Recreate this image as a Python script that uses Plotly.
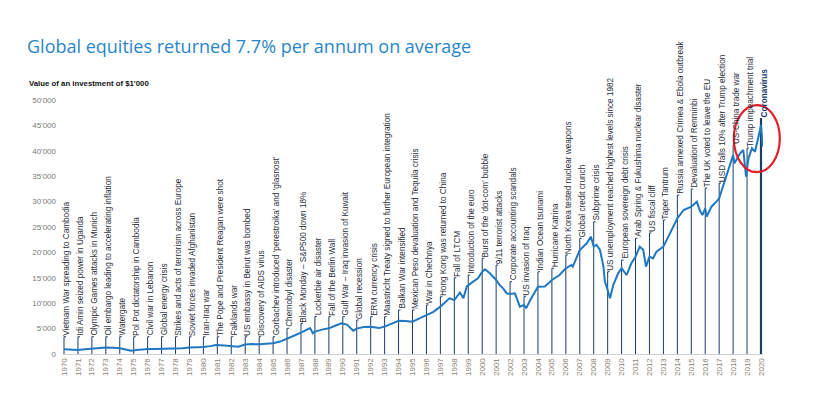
import plotly.graph_objects as go

# ---------------- data ----------------
series_years = [
    1970.0, 1970.5, 1971.0, 1971.5, 1972.0, 1972.5, 1973.0, 1973.5, 1974.0, 1974.5, 1974.8,
    1975.2, 1975.5, 1976.0, 1976.5, 1977.0, 1977.5, 1978.0, 1978.5, 1979.0, 1979.5, 1980.0,
    1980.5, 1980.9, 1981.5, 1982.0, 1982.5, 1983.0, 1983.5, 1984.0, 1984.5, 1985.0, 1985.5,
    1986.0, 1986.45, 1987.0, 1987.5, 1987.65, 1987.85, 1988.0, 1988.5, 1989.0, 1989.5, 1989.9,
    1990.3, 1990.75, 1991.0, 1991.5, 1992.0, 1992.6, 1993.0, 1993.5, 1994.0, 1994.5, 1995.0,
    1995.5, 1996.0, 1996.5, 1997.0, 1997.65, 1998.0, 1998.4, 1998.65, 1998.9, 1999.35, 1999.7,
    2000.0, 2000.2, 2000.55, 2001.0, 2001.25, 2001.5, 2001.75, 2002.0, 2002.35, 2002.7, 2003.0,
    2003.15, 2003.45, 2004.0, 2004.5, 2005.0, 2005.55, 2006.0, 2006.4, 2006.5, 2007.0, 2007.5,
    2007.8, 2008.0, 2008.2, 2008.45, 2008.7, 2008.8, 2009.0, 2009.17, 2009.4, 2009.75, 2010.0,
    2010.36, 2010.7, 2011.0, 2011.3, 2011.55, 2011.75, 2012.0, 2012.25, 2012.5, 2013.0, 2013.35,
    2013.7, 2014.0, 2014.45, 2014.8, 2015.0, 2015.4, 2015.6, 2015.8, 2016.0, 2016.1, 2016.45,
    2016.8, 2017.0, 2017.5, 2018.0, 2018.1, 2018.5, 2018.73, 2018.93, 2019.1, 2019.35, 2019.57,
    2019.76, 2019.93, 2020.0, 2020.12,
]
series_values = [
    930, 820, 800, 950, 1100, 1200, 1300, 1250, 1150, 850, 650,
    800, 920, 1000, 980, 1000, 990, 1050, 1150, 1280, 1300, 1400,
    1550, 1780, 1650, 1550, 1450, 1850, 1950, 1900, 2000, 2100, 2450,
    2950, 3550, 4200, 4850, 5100, 4100, 4400, 4800, 5050, 5600, 6050,
    5800, 4600, 5000, 5300, 5380, 5100, 5400, 6000, 6550, 6500, 6370,
    7000, 7680, 8300, 9320, 10960, 10630, 12100, 11000, 13300, 14240, 14900,
    16200, 16670, 15880, 14570, 13580, 12930, 11950, 11800, 11950, 9320, 9650,
    8990, 10630, 13250, 13300, 14570, 15550, 16870, 17520, 17200, 20470, 21790,
    23100, 21130, 21500, 20470, 17190, 14240, 12600, 10960, 13580, 15880, 16870,
    15550, 17850, 19150, 21130, 20500, 17190, 19150, 18800, 20140, 21130, 23100,
    24740, 26710, 28350, 28680, 29000, 29980, 28350, 27360, 28680, 27030, 29000,
    29980, 30650, 34900, 39170, 37540, 39500, 40160, 34900, 38520, 40490, 39800,
    41800, 44090, 45080, 40820,
]

event_years = list(range(1970, 2021))
event_labels = [
    "Vietnam War spreading to Cambodia",
    "Idi Amin seized power in Uganda",
    "Olympic Games attacks in Munich",
    "Oil embargo leading to accelerating inflation",
    "Watergate",
    "Pol Pot dictatorship in Cambodia",
    "Civil war in Lebanon",
    "Global energy crisis",
    "Strikes and acts of terrorism across Europe",
    "Soviet forces invaded Afghanistan",
    "Iran-Iraq war",
    "The Pope and President Reagan were shot",
    "Falklands war",
    "US embassy in Beirut was bombed",
    "Discovery of AIDS virus",
    "Gorbachev introduced \u2018perestroika\u2019 and \u2018glasnost\u2019",
    "Chernobyl disaster",
    "Black Monday \u2013 S&P500 down 18%",
    "Lockerbie air disaster",
    "Fall of the Berlin Wall",
    "Gulf War \u2013 Iraq invasion of Kuwait",
    "Global recession",
    "ERM currency crisis",
    "Maastricht Treaty signed to further European integration",
    "Balkan War intensified",
    "Mexican Peso devaluation and Tequila crisis",
    "War in Chechnya",
    "Hong Kong was returned to China",
    "Fall of LTCM",
    "Introduction of the euro",
    "Burst of the \u2018dot-com\u2019 bubble",
    "9/11 terrorist attacks",
    "Corporate accounting scandals",
    "US invasion of Iraq",
    "Indian Ocean tsunami",
    "Hurricane Katrina",
    "North Korea tested nuclear weapons",
    "Global credit crunch",
    "Subprime crisis",
    "US unemployment reached highest levels since 1982",
    "European sovereign debt crisis",
    "Arab Spring & Fukushima nuclear disaster",
    "US fiscal cliff",
    "Taper Tantrum",
    "Russia annexed Crimea & Ebola outbreak",
    "Devaluation of Renminbi",
    "The UK voted to leave the EU",
    "USD falls 10% after Trump election",
    "US-China trade war",
    "Trump impeachment trial",
    "Coronavirus",
]
event_tops = [
    3400, 3400, 3400, 3400, 3400, 3400, 3400, 3400, 3400, 3400,
    3400, 3400, 3400, 3400, 3400, 3400, 5060, 6040, 7400, 7350,
    7350, 6700, 7350, 7350, 8660, 8660, 9650, 11280, 15000, 15550,
    18830, 17520, 14240, 11280, 16200, 16870, 19490, 22780, 26040, 16200,
    18500, 22780, 23820, 26380, 31300, 32480, 32680, 33660, 41140, 40550,
    46460,
]

y_tick_vals = [0, 5000, 10000, 15000, 20000, 25000, 30000, 35000, 40000, 45000, 50000]
y_tick_text = ["0", "5'000", "10'000", "15'000", "20'000", "25'000", "30'000",
               "35'000", "40'000", "45'000", "50'000"]
x_tick_vals = list(range(1970, 2021))
x_tick_text = [str(v) for v in x_tick_vals]

highlight_years = (2018.05, 2021.35)
highlight_values = (35800, 49000)

# ---------------- figure ----------------
FONT = "Liberation Sans, Arial, sans-serif"
NAVY = "#1d3c6e"
BLUE = "#1f78c1"

X_RANGE = [1969.928, 2020.144]
Y_RANGE = [0, 50000]

fig = go.Figure()

# event lines (with a small tick at the top), one trace
lx, ly = [], []
for yr, top in zip(event_years[:-1], event_tops[:-1]):
    lx += [yr, yr, yr + 0.14, None]
    ly += [0, top, top, None]
fig.add_trace(go.Scatter(x=lx, y=ly, mode="lines",
                         line=dict(color=NAVY, width=1), hoverinfo="skip",
                         showlegend=False))
# coronavirus line, thicker
fig.add_trace(go.Scatter(x=[event_years[-1], event_years[-1]], y=[0, event_tops[-1]],
                         mode="lines", line=dict(color=NAVY, width=2.2),
                         hoverinfo="skip", showlegend=False))

# main series
fig.add_trace(go.Scatter(x=series_years, y=series_values, mode="lines",
                         line=dict(color=BLUE, width=2), showlegend=False))

# event labels
for i, (yr, top, lab) in enumerate(zip(event_years, event_tops, event_labels)):
    last = i == len(event_years) - 1
    fig.add_annotation(
        x=yr, y=top, xref="x", yref="y",
        text=f"<b>{lab}</b>" if last else lab,
        textangle=-90, showarrow=False,
        xanchor="left", yanchor="bottom",
        xshift=-1.5, yshift=1,
        borderpad=0, borderwidth=0,
        font=dict(family=FONT, size=8.2, color=NAVY if last else "#2a2f3a"),
    )

# red ellipse (converted from data to paper coordinates)
def xp(v):
    return (v - X_RANGE[0]) / (X_RANGE[1] - X_RANGE[0])

def yp(v):
    return (v - Y_RANGE[0]) / (Y_RANGE[1] - Y_RANGE[0])

fig.add_shape(type="circle", xref="paper", yref="paper",
              x0=xp(highlight_years[0]), x1=xp(highlight_years[1]),
              y0=yp(highlight_values[0]), y1=yp(highlight_values[1]),
              line=dict(color="#e3202a", width=2.2))

# title & subtitle
fig.add_annotation(text="Global equities returned 7.7% per annum on average",
                   xref="paper", yref="paper", x=-0.055, y=1.0, xanchor="left",
                   yanchor="bottom", yshift=40, showarrow=False,
                   font=dict(family="Open Sans, sans-serif", size=18, color="#2a86c8"))
fig.add_annotation(text="<b>Value of an investment of $1'000</b>",
                   xref="paper", yref="paper", x=-0.051, y=1.0, xanchor="left",
                   yanchor="bottom", yshift=10, showarrow=False,
                   font=dict(family=FONT, size=7.8, color="#111111"))

fig.update_xaxes(range=X_RANGE, tickvals=x_tick_vals, ticktext=x_tick_text,
                 tickangle=-90, showgrid=False, zeroline=False,
                 showline=True, linecolor="#d0d0d0", linewidth=1,
                 ticks="", tickfont=dict(family=FONT, size=8, color="#8a7f70"))
fig.update_yaxes(range=Y_RANGE, tickvals=y_tick_vals, ticktext=y_tick_text,
                 showgrid=False, zeroline=False, showline=False, ticks="",
                 ticklabelstandoff=6,
                 tickfont=dict(family=FONT, size=8, color="#7a7a7a"))

fig.update_layout(width=819, height=390,
                  margin=dict(l=55, r=64, t=92, b=44),
                  plot_bgcolor="white", paper_bgcolor="white",
                  showlegend=False)

fig.write_html("out.html")
